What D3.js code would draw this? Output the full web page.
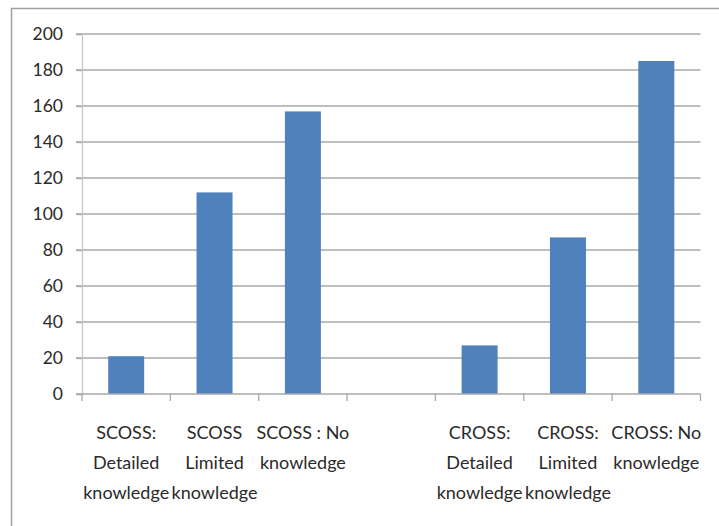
<!DOCTYPE html>
<html><head><meta charset="utf-8">
<script src="https://cdn.jsdelivr.net/npm/d3@7"></script>
<style>body{margin:0;background:#fff;} svg{display:block;}</style>
</head><body>
<svg id="c" width="719" height="526"></svg>
<script>
const categories = ["SCOSS: Detailed knowledge","SCOSS Limited knowledge","SCOSS : No knowledge","","CROSS: Detailed knowledge","CROSS: Limited knowledge","CROSS: No knowledge"];
const categoryLines = [["SCOSS:","Detailed","knowledge"],["SCOSS","Limited","knowledge"],["SCOSS : No","knowledge"],[],["CROSS:","Detailed","knowledge"],["CROSS:","Limited","knowledge"],["CROSS: No","knowledge"]];
const values = [21, 112, 157, null, 27, 87, 185];
const yTicks = [0,20,40,60,80,100,120,140,160,180,200];

const svg = d3.select("#c");
const font = "Lato, 'Liberation Sans', sans-serif";
const mLeft = 82, mRight = 700.5, mTop = 34, mBottom = 394;

svg.append("rect").attr("x",11.5).attr("y",8.5).attr("width",760).attr("height",600)
  .attr("fill","none").attr("stroke","#a0a0a0").attr("stroke-width",1.5);

const x = d3.scaleBand().domain(categories.map((c,i)=>i)).range([mLeft,mRight]).paddingInner(0).paddingOuter(0);
const y = d3.scaleLinear().domain([0,200]).range([mBottom,mTop]);

// gridlines
svg.append("g").selectAll("line").data(yTicks.filter(t=>t>0)).join("line")
  .attr("x1",mLeft-6).attr("x2",mRight).attr("y1",d=>y(d)).attr("y2",d=>y(d))
  .attr("stroke","#a8a8a8").attr("stroke-width",1.3);

// y axis
const yAxis = svg.append("g").attr("transform",`translate(${mLeft},0)`)
  .call(d3.axisLeft(y).tickValues(yTicks).tickSize(6).tickPadding(13));
yAxis.select(".domain").attr("stroke","#c8c8c8").attr("stroke-width",1.3);
yAxis.selectAll(".tick line").attr("stroke","#a8a8a8").attr("stroke-width",1.3);
yAxis.selectAll("text").attr("font-family",font).attr("font-size",17.5).attr("fill","#2a2a2a");

// bars
const bw = 36;
svg.append("g").selectAll("rect").data(values.map((v,i)=>({v,i})).filter(d=>d.v!=null)).join("rect")
  .attr("x",d=>x(d.i)+x.bandwidth()/2-bw/2).attr("width",bw)
  .attr("y",d=>y(d.v)).attr("height",d=>y(0)-y(d.v))
  .attr("fill","#4f81bd");

// x axis
const xAxisG = svg.append("g").attr("transform",`translate(0,${mBottom})`);
xAxisG.append("line").attr("x1",mLeft-6).attr("x2",mRight).attr("stroke","#a8a8a8").attr("stroke-width",1.3);
const bounds = categories.map((c,i)=>x(i)).concat([mRight]);
xAxisG.selectAll("line.t").data(bounds).join("line").attr("class","t")
  .attr("x1",d=>d).attr("x2",d=>d).attr("y1",0).attr("y2",7)
  .attr("stroke","#a8a8a8").attr("stroke-width",1.3);

// category labels
const lab = svg.append("g");
categoryLines.forEach((lines,i)=>{
  const cx = x(i)+x.bandwidth()/2;
  lines.forEach((ln,j)=>{
    lab.append("text").attr("x",cx).attr("y",439+j*30)
      .attr("text-anchor","middle").attr("font-family",font).attr("font-size",18)
      .attr("fill","#2a2a2a").text(ln);
  });
});
</script>
</body></html>
